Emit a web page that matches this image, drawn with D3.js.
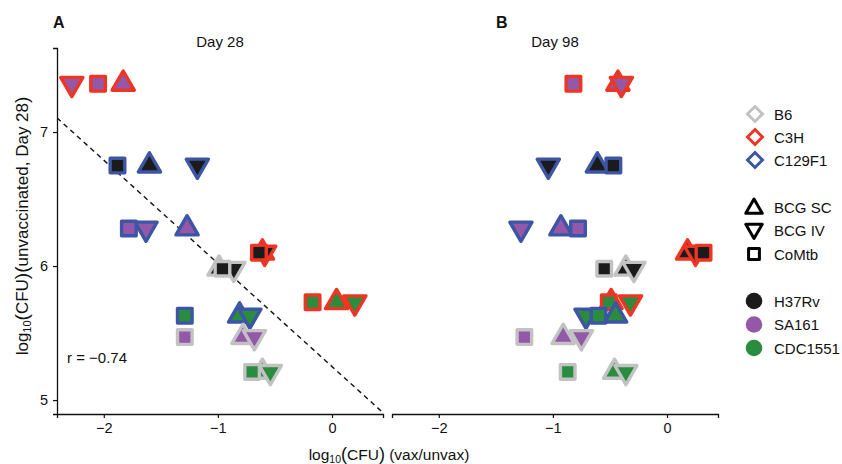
<!DOCTYPE html>
<html><head><meta charset="utf-8">
<script src="https://cdn.jsdelivr.net/npm/d3@7"></script>
<style>body{margin:0;background:#fff} text{font-family:"Liberation Sans",Arial,Helvetica,sans-serif;fill:#111}</style>
</head><body><svg id="c" width="842" height="464"></svg>
<script>
// ---------- data ----------
const mouseStrains = ["B6", "C3H", "C129F1"];
const vaccines = ["BCG SC", "BCG IV", "CoMtb"];
const mtbStrains = ["H37Rv", "SA161", "CDC1551"];
const panels = ["Day 28", "Day 98"];
const panelTags = ["A", "B"];
const xTicks = [-2, -1, 0];
const yTicks = [5, 6, 7];

// one entry per (mouse strain, Mtb strain) group
const groupMouse = ["C3H", "C129F1", "C129F1", "B6", "C3H", "C3H", "C129F1", "B6", "B6"];
const groupMtb   = ["SA161", "H37Rv", "SA161", "H37Rv", "H37Rv", "CDC1551", "CDC1551", "SA161", "CDC1551"];
const unvaxDay28 = [7.36, 6.75, 6.28, 5.98, 6.10, 5.73, 5.63, 5.47, 5.21];

// log10(CFU) vax/unvax
const day28_SC    = [-1.83, -1.60, -1.27, -0.99,  -0.61, 0.04, -0.81, -0.78, -0.61];
const day28_IV    = [-2.28, -1.18, -1.63, -0.86,  -0.59, 0.20, -0.72, -0.68, -0.54];
const day28_CoMtb = [-2.05, -1.88, -1.78, -0.96,  -0.64, -0.17, -1.29, -1.29, -0.70];
const day98_SC    = [-0.43, -0.61, -0.93, -0.36, 0.18, -0.49, -0.45, -0.91, -0.46];
const day98_IV    = [-0.40, -1.04, -1.28, -0.29, 0.25, -0.32, -0.71, -0.75, -0.36];
const day98_CoMtb = [-0.82, -0.47, -0.78, -0.55, 0.32, -0.51, -0.60, -1.25, -0.87];

// regression shown in panel A
const fitIntercept = 5.25;
const fitSlope = -0.77;
const corrLabel = "r = \u22120.74";

// ---------- styles ----------
const strokeColor = {"B6": "#c2c2c2", "C3H": "#ee3524", "C129F1": "#3c55a5"};
const fillColor = {"H37Rv": "#1b1b1b", "SA161": "#9458a8", "CDC1551": "#2a8c3e"};
const FONT = "Liberation Sans, Arial, sans-serif";

const svg = d3.select("#c");
const plotTop = 48, plotBottom = 414;
const panelX = [[57, 383], [392, 718]];
const xDomain = [-2.41, 0.447];
const yDomain = [4.896, 7.627];
const y = d3.scaleLinear().domain(yDomain).range([plotBottom, plotTop]);

function shapePath(shape, r) {
  const h = r * Math.sqrt(3) / 2;
  if (shape === "BCG SC") return `M0,${-r}L${h},${r/2}L${-h},${r/2}Z`;
  if (shape === "BCG IV") return `M0,${r}L${h},${-r/2}L${-h},${-r/2}Z`;
  if (shape === "CoMtb") { const s = r * 0.57; return `M${-s},${-s}H${s}V${s}H${-s}Z`; }
  if (shape === "diamond") return `M0,${-r}L${r},0L0,${r}L${-r},0Z`;
  return "";
}

const dayData = [
  [day28_SC, day28_IV, day28_CoMtb],
  [day98_SC, day98_IV, day98_CoMtb]
];

panels.forEach((title, p) => {
  const x = d3.scaleLinear().domain(xDomain).range(panelX[p]);
  const g = svg.append("g");
  const clipId = "clip" + p;
  svg.append("clipPath").attr("id", clipId).append("rect")
    .attr("x", panelX[p][0]).attr("y", plotTop)
    .attr("width", panelX[p][1] - panelX[p][0]).attr("height", plotBottom - plotTop);

  // x axis
  const xa = g.append("g").attr("transform", `translate(0,${plotBottom})`)
    .call(d3.axisBottom(x).tickValues(xTicks).tickSize(4).tickPadding(5)
      .tickFormat(d => d < 0 ? "\u2212" + Math.abs(d) : d));
  xa.select(".domain").attr("stroke", "#111").attr("stroke-width", 1.3);
  xa.selectAll(".tick line").attr("stroke", "#111").attr("stroke-width", 1.2);
  xa.selectAll(".tick text").style("font-size", "14.5px").style("font-family", FONT).attr("fill", "#111");

  if (p === 0) {
    const ya = g.append("g").attr("transform", `translate(${panelX[0][0]},0)`)
      .call(d3.axisLeft(y).tickValues(yTicks).tickSize(4).tickPadding(5).tickFormat(d3.format("d")));
    ya.select(".domain").attr("stroke", "#111").attr("stroke-width", 1.3);
    ya.selectAll(".tick line").attr("stroke", "#111").attr("stroke-width", 1.2);
    ya.selectAll(".tick text").style("font-size", "14.5px").style("font-family", FONT).attr("fill", "#111");

    // regression line
    g.append("line").attr("clip-path", `url(#${clipId})`)
      .attr("x1", x(xDomain[0])).attr("y1", y(fitIntercept + fitSlope * xDomain[0]))
      .attr("x2", x(xDomain[1])).attr("y2", y(fitIntercept + fitSlope * xDomain[1]))
      .attr("stroke", "#111").attr("stroke-width", 1.4).attr("stroke-dasharray", "5,4");
    g.append("text").attr("x", 67).attr("y", 363).style("font-size", "15px").text(corrLabel);
  }

  // panel title + tag
  g.append("text").attr("x", (panelX[p][0] + panelX[p][1]) / 2).attr("y", 47)
    .attr("text-anchor", "middle").style("font-size", "15px").text(title);
  g.append("text").attr("x", p === 0 ? 53 : 496).attr("y", 28)
    .style("font-size", "16px").style("font-weight", "bold").text(panelTags[p]);

  // points
  const pts = g.append("g");
  groupMouse.forEach((m, i) => {
    vaccines.forEach((v, k) => {
      pts.append("path")
        .attr("d", shapePath(v, 12.8))
        .attr("transform", `translate(${x(dayData[p][k][i])},${y(unvaxDay28[i])})`)
        .attr("fill", fillColor[groupMtb[i]])
        .attr("stroke", strokeColor[m])
        .attr("stroke-width", 3.4)
        .attr("stroke-linejoin", "round");
    });
  });
});

// axis titles
const yt = svg.append("text").attr("transform", "translate(28,226) rotate(-90)")
  .attr("text-anchor", "middle").style("font-size", "17px");
yt.append("tspan").text("log");
yt.append("tspan").attr("baseline-shift", "-25%").style("font-size", "11px").text("10");
yt.append("tspan").style("font-size", "19px").text("(");
yt.append("tspan").text("CFU");
yt.append("tspan").style("font-size", "19px").text(")(");
yt.append("tspan").text("unvaccinated, Day 28");
yt.append("tspan").style("font-size", "19px").text(")");

const xt = svg.append("text").attr("x", 389).attr("y", 460)
  .attr("text-anchor", "middle").style("font-size", "15.5px");
xt.append("tspan").text("log");
xt.append("tspan").attr("baseline-shift", "-25%").style("font-size", "10.5px").text("10");
xt.append("tspan").style("font-size", "18px").text("(");
xt.append("tspan").text("CFU");
xt.append("tspan").style("font-size", "18px").text(")");
xt.append("tspan").text(" (vax/unvax)");

// legend
const lx = 755, tx = 774;
const leg = svg.append("g");
mouseStrains.forEach((m, i) => {
  const cy = 114 + i * 23;
  leg.append("path").attr("d", shapePath("diamond", 7.5)).attr("transform", `translate(${lx},${cy})`)
    .attr("fill", "#fff").attr("stroke", strokeColor[m]).attr("stroke-width", 3);
  leg.append("text").attr("x", tx).attr("y", cy + 5.5).style("font-size", "15px").text(m);
});
vaccines.forEach((v, i) => {
  const cy = 207 + i * 23.5;
  leg.append("path").attr("d", shapePath(v, 9.5)).attr("transform", `translate(${lx - 1},${cy + (v === "BCG SC" ? 1.5 : v === "BCG IV" ? -1.5 : 0)})`)
    .attr("fill", "#fff").attr("stroke", "#000").attr("stroke-width", 3).attr("stroke-linejoin", "round");
  leg.append("text").attr("x", tx).attr("y", cy + 5.5).style("font-size", "15px").text(v);
});
mtbStrains.forEach((s, i) => {
  const cy = 301 + i * 23.5;
  leg.append("circle").attr("cx", lx - 1).attr("cy", cy).attr("r", 8.3).attr("fill", fillColor[s]);
  leg.append("text").attr("x", tx).attr("y", cy + 5.5).style("font-size", "15px").text(s);
});
</script></body></html>
